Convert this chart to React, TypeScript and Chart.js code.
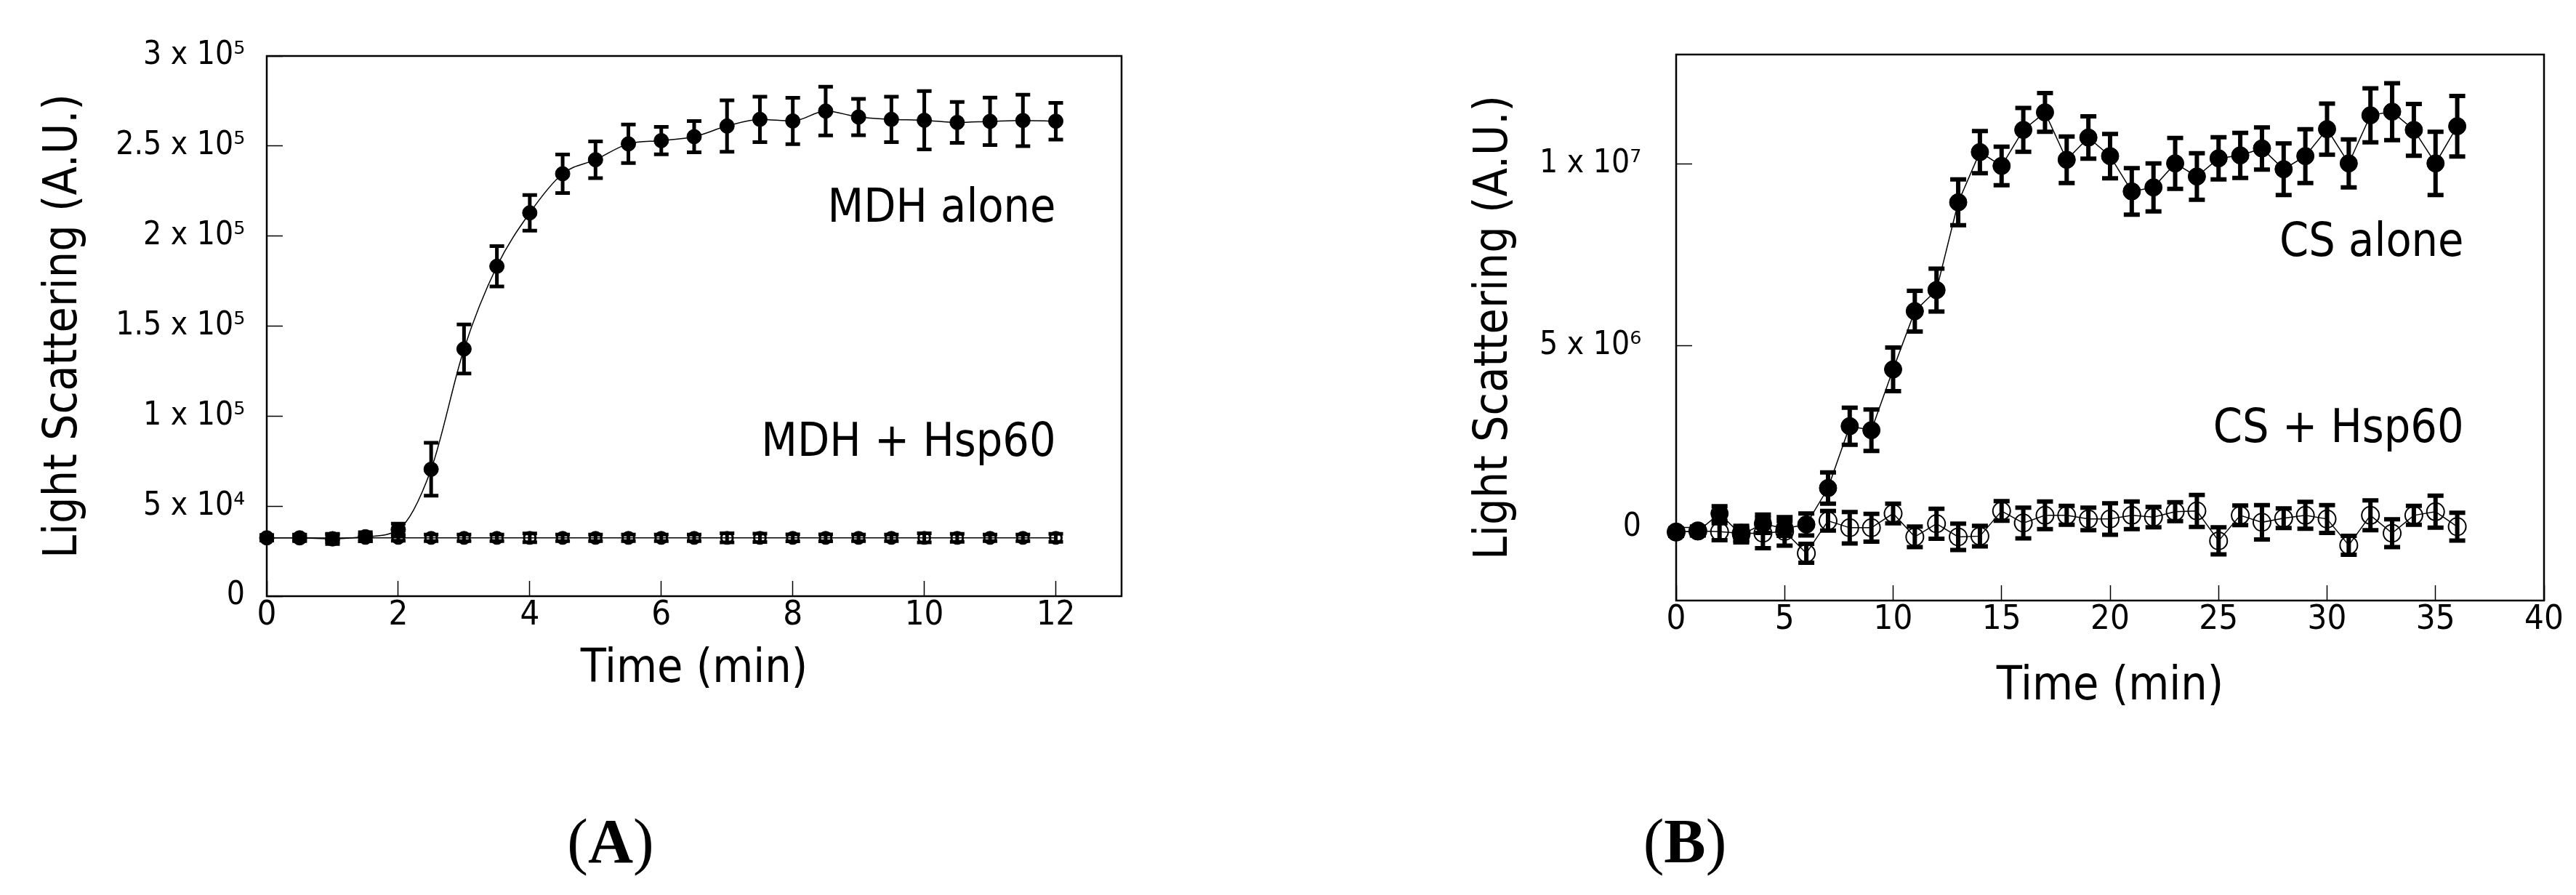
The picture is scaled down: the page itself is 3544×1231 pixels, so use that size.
import React, { useEffect, useRef } from "react";
import { Chart, registerables } from "chart.js";

Chart.register(...registerables);

// ---------- Panel A : MDH ----------
const mdhTimes = [0, 0.5, 1, 1.5, 2, 2.5, 3, 3.5, 4, 4.5, 5, 5.5, 6, 6.5, 7, 7.5, 8, 8.5, 9, 9.5, 10, 10.5, 11, 11.5, 12];
const mdhAlone = [32400, 32400, 31800, 33000, 37000, 70500, 137300, 183200, 212900, 234600, 242400, 251200, 253000, 255200, 261100, 264800, 263900, 269400, 266100, 264800, 264300, 263100, 263700, 264200, 263800];
const mdhAloneErr = [1500, 1800, 2800, 2500, 3300, 14700, 13600, 11200, 9900, 10700, 10200, 10700, 7600, 8700, 14300, 12600, 12900, 13500, 10100, 12600, 16200, 11400, 13200, 14300, 10200];
const mdhHsp60 = [32400, 32400, 32300, 32400, 32400, 32400, 32400, 32400, 32400, 32400, 32400, 32400, 32400, 32400, 32400, 32400, 32400, 32400, 32400, 32400, 32400, 32400, 32400, 32400, 32400];
const mdhHsp60Err = [1500, 1500, 2000, 1800, 1600, 1800, 1800, 1800, 2400, 1800, 1800, 1800, 1800, 1800, 2500, 2300, 1900, 1900, 1800, 1800, 2500, 2200, 1800, 1800, 2200];
const mdhYTickValues = [0, 50000, 100000, 150000, 200000, 250000, 300000];
const mdhYTickLabels = ["0", "5 x 10\u2074", "1 x 10\u2075", "1.5 x 10\u2075", "2 x 10\u2075", "2.5 x 10\u2075", "3 x 10\u2075"];

// ---------- Panel B : CS ----------
const csTimes = [0, 1, 2, 3, 4, 5, 6, 7, 8, 9, 10, 11, 12, 13, 14, 15, 16, 17, 18, 19, 20, 21, 22, 23, 24, 25, 26, 27, 28, 29, 30, 31, 32, 33, 34, 35, 36];
const csAlone = [-120000, -100000, 390000, -200000, 110000, -20000, 90000, 1090000, 2790000, 2680000, 4350000, 5950000, 6530000, 8940000, 10320000, 9940000, 10930000, 11410000, 10110000, 10720000, 10210000, 9240000, 9350000, 10010000, 9650000, 10150000, 10230000, 10420000, 9850000, 10210000, 10950000, 10010000, 11330000, 11430000, 10930000, 10010000, 11030000];
const csAloneErr = [80000, 100000, 200000, 200000, 250000, 200000, 300000, 430000, 510000, 570000, 600000, 560000, 590000, 630000, 580000, 530000, 600000, 530000, 640000, 580000, 610000, 640000, 660000, 700000, 640000, 580000, 620000, 580000, 710000, 740000, 700000, 660000, 740000, 780000, 710000, 870000, 830000];
const csHsp60 = [-120000, -90000, -110000, -150000, -150000, -100000, -700000, 190000, 0, 0, 390000, -250000, 110000, -250000, -230000, 460000, 130000, 340000, 340000, 240000, 240000, 340000, 290000, 440000, 460000, -360000, 340000, 150000, 260000, 340000, 240000, -480000, 340000, -150000, 340000, 440000, 30000];
const csHsp60Err = [100000, 120000, 230000, 200000, 410000, 390000, 260000, 270000, 430000, 380000, 270000, 280000, 410000, 360000, 280000, 270000, 420000, 380000, 260000, 310000, 430000, 380000, 280000, 260000, 440000, 370000, 270000, 470000, 270000, 370000, 380000, 260000, 410000, 380000, 260000, 440000, 380000];
const csYTickValues = [0, 5000000, 10000000];
const csYTickLabels = ["0", "5 x 10\u2076", "1 x 10\u2077"];

// ---------- annotation texts (anchored in data units) ----------
const mdhNotes = [
  { text: "MDH alone", x: 12.0, y: 208000 },
  { text: "MDH + Hsp60", x: 12.0, y: 78000 },
];
const csNotes = [
  { text: "CS alone", x: 36.3, y: 7460000 },
  { text: "CS + Hsp60", x: 36.3, y: 2360000 },
];

const SANS = '"DejaVu Sans Condensed", "DejaVu Sans", sans-serif';
const NARROW = '"Liberation Sans Narrow", "DejaVu Sans Condensed", sans-serif';

const framePlugin = {
  id: "frame",
  beforeDatasetsDraw(chart: any) {
    const { ctx, chartArea: a } = chart;
    ctx.save();
    ctx.strokeStyle = "#000";
    ctx.lineWidth = 2.5;
    ctx.strokeRect(a.left, a.top, a.right - a.left, a.bottom - a.top);
    ctx.restore();
  },
};

const errorBarPlugin = {
  id: "errorBars",
  beforeDatasetsDraw(chart: any, _args: any, opts: any) {
    const { ctx } = chart;
    const yScale = chart.scales.y;
    const lw = opts.width || 5;
    const cap = opts.cap || 10;
    chart.data.datasets.forEach((ds: any, i: number) => {
      const errs = ds.errors;
      if (!errs) return;
      const meta = chart.getDatasetMeta(i);
      ctx.save();
      ctx.strokeStyle = "#000";
      ctx.lineWidth = lw;
      ctx.lineCap = "butt";
      meta.data.forEach((pt: any, j: number) => {
        const v = ds.data[j].y;
        const e = errs[j];
        const top = yScale.getPixelForValue(v + e);
        const bot = yScale.getPixelForValue(v - e);
        ctx.beginPath();
        ctx.moveTo(pt.x, top);
        ctx.lineTo(pt.x, bot);
        ctx.moveTo(pt.x - cap, top);
        ctx.lineTo(pt.x + cap, top);
        ctx.moveTo(pt.x - cap, bot);
        ctx.lineTo(pt.x + cap, bot);
        ctx.stroke();
      });
      ctx.restore();
    });
  },
};

const notesPlugin = {
  id: "notes",
  afterDraw(chart: any, _args: any, opts: any) {
    const { ctx } = chart;
    const xs = chart.scales.x;
    const ys = chart.scales.y;
    ctx.save();
    ctx.fillStyle = "#000";
    ctx.font = `${opts.size}px ${SANS}`;
    ctx.textAlign = "right";
    ctx.textBaseline = "alphabetic";
    (opts.items || []).forEach((n: any) => {
      ctx.fillText(n.text, xs.getPixelForValue(n.x), ys.getPixelForValue(n.y));
    });
    ctx.restore();
  },
};

function zeroPadding(s: any) {
  s.paddingTop = 0;
  s.paddingBottom = 0;
  s.paddingLeft = 0;
  s.paddingRight = 0;
}

function makeConfig(p: any) {
  return {
    type: "line",
    data: {
      datasets: [
        {
          label: p.labels[0],
          data: p.times.map((t: number, i: number) => ({ x: t, y: p.alone[i] })),
          errors: p.aloneErr,
          borderColor: "#000",
          borderWidth: 1.5,
          pointRadius: p.radius,
          pointBackgroundColor: "#000",
          pointBorderColor: "#000",
          pointBorderWidth: 1,
          cubicInterpolationMode: p.smooth ? "monotone" : "default",
          tension: 0,
          clip: false,
        },
        {
          label: p.labels[1],
          data: p.times.map((t: number, i: number) => ({ x: t, y: p.hsp[i] })),
          errors: p.hspErr,
          borderColor: "#000",
          borderWidth: 1.5,
          pointRadius: p.openRadius,
          pointBackgroundColor: "rgba(0,0,0,0)",
          pointBorderColor: "#000",
          pointBorderWidth: p.openBorder,
          tension: 0,
          clip: false,
        },
      ],
    },
    options: {
      animation: false,
      responsive: false,
      devicePixelRatio: 1,
      layout: { padding: p.layoutPadding },
      plugins: {
        legend: { display: false },
        tooltip: { enabled: false },
        errorBars: { width: p.barWidth, cap: p.cap },
        notes: { size: 64, items: p.notes },
      },
      scales: {
        x: {
          type: "linear",
          min: p.xMin,
          max: p.xMax,
          afterFit: (s: any) => {
            s.height = p.xHeight;
            zeroPadding(s);
          },
          ticks: {
            stepSize: p.xStep,
            includeBounds: false,
            padding: 20,
            color: "#000",
            maxRotation: 0,
            minRotation: 0,
            autoSkip: false,
            font: { family: NARROW, size: 47 },
          },
          grid: { drawOnChartArea: false, tickLength: -21, tickWidth: 1.5, tickColor: "#000", color: "#000" },
          border: { display: false },
          title: {
            display: true,
            text: "Time (min)",
            color: "#000",
            font: { family: SANS, size: 64 },
            padding: { top: 0, bottom: p.xTitlePad },
          },
        },
        y: {
          type: "linear",
          min: p.yMin,
          max: p.yMax,
          afterFit: (s: any) => {
            s.width = p.yWidth;
            zeroPadding(s);
          },
          afterBuildTicks: (s: any) => {
            s.ticks = p.yTickValues.map((v: number) => ({ value: v }));
          },
          ticks: {
            padding: p.yTickPad,
            color: "#000",
            autoSkip: false,
            font: { family: SANS, size: 44 },
            callback: (v: number) => {
              const k = p.yTickValues.indexOf(v);
              return k >= 0 ? p.yTickLabels[k] : "";
            },
          },
          grid: { drawOnChartArea: false, tickLength: -22, tickWidth: 1.5, tickColor: "#000", color: "#000" },
          border: { display: false },
          title: {
            display: true,
            text: "Light Scattering (A.U.)",
            color: "#000",
            font: { family: SANS, size: 64 },
            padding: { top: p.yTitlePad, bottom: 0 },
          },
        },
      },
    },
    plugins: [framePlugin, errorBarPlugin, notesPlugin],
  };
}

export default function App() {
  const refA = useRef<HTMLCanvasElement | null>(null);
  const refB = useRef<HTMLCanvasElement | null>(null);

  useEffect(() => {
    const a = new Chart(
      refA.current as HTMLCanvasElement,
      makeConfig({
        labels: ["MDH alone", "MDH + Hsp60"],
        times: mdhTimes,
        alone: mdhAlone,
        aloneErr: mdhAloneErr,
        hsp: mdhHsp60,
        hspErr: mdhHsp60Err,
        smooth: true,
        radius: 10,
        openRadius: 8,
        openBorder: 3,
        barWidth: 5,
        cap: 10,
        notes: mdhNotes,
        layoutPadding: { top: 77, right: 229, bottom: 0, left: 0 },
        xMin: 0,
        xMax: 13,
        xStep: 2,
        xHeight: 411,
        xTitlePad: 271,
        yMin: 0,
        yMax: 300000,
        yWidth: 367,
        yTickValues: mdhYTickValues,
        yTickLabels: mdhYTickLabels,
        yTickPad: 52,
        yTitlePad: 50,
      }) as any
    );
    const b = new Chart(
      refB.current as HTMLCanvasElement,
      makeConfig({
        labels: ["CS alone", "CS + Hsp60"],
        times: csTimes,
        alone: csAlone,
        aloneErr: csAloneErr,
        hsp: csHsp60,
        hspErr: csHsp60Err,
        smooth: false,
        radius: 12,
        openRadius: 12,
        openBorder: 2,
        barWidth: 6,
        cap: 11,
        notes: csNotes,
        layoutPadding: { top: 75, right: 44, bottom: 0, left: 0 },
        xMin: 0,
        xMax: 40,
        xStep: 5,
        xHeight: 405,
        xTitlePad: 247,
        yMin: -2000000,
        yMax: 13000000,
        yWidth: 534,
        yTickValues: csYTickValues,
        yTickLabels: csYTickLabels,
        yTickPad: 70,
        yTitlePad: 246,
      }) as any
    );
    return () => {
      a.destroy();
      b.destroy();
    };
  }, []);

  const panelLabel: React.CSSProperties = {
    position: "absolute",
    top: 1114,
    width: 200,
    textAlign: "center",
    fontFamily: '"Liberation Serif", "Times New Roman", serif',
    fontSize: 86,
    lineHeight: "86px",
    color: "#000",
  };

  return (
    <div style={{ position: "absolute", left: 0, top: 0, width: 3544, height: 1231, background: "#fff", overflow: "hidden" }}>
      <canvas ref={refA} width={1772} height={1231} style={{ position: "absolute", left: 0, top: 0, width: 1772, height: 1231 }} />
      <canvas ref={refB} width={1772} height={1231} style={{ position: "absolute", left: 1772, top: 0, width: 1772, height: 1231 }} />
      <div style={{ ...panelLabel, left: 740 }}>
        (<b>A</b>)
      </div>
      <div style={{ ...panelLabel, left: 2218 }}>
        (<b>B</b>)
      </div>
    </div>
  );
}
